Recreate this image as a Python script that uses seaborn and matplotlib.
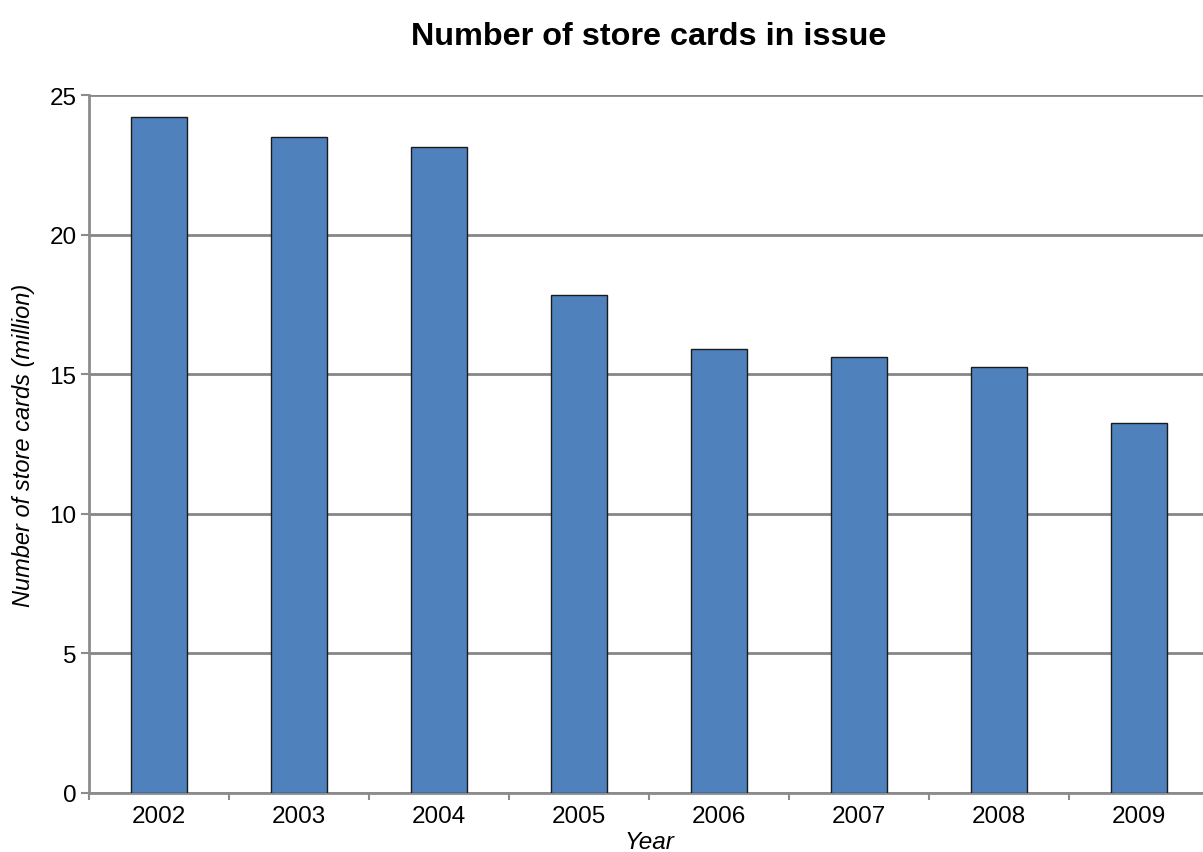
import numpy as np
import pandas as pd
import seaborn as sns
import matplotlib.pyplot as plt
from matplotlib.ticker import MultipleLocator

years = ['2002', '2003', '2004', '2005', '2006', '2007', '2008', '2009']
cards = [24.2, 23.5, 23.15, 17.85, 15.9, 15.6, 15.25, 13.25]

df = pd.DataFrame({'Year': years, 'cards': cards})

sns.set_style('white')
plt.rcParams['font.family'] = ['Liberation Sans', 'DejaVu Sans']
plt.rcParams['text.color'] = 'black'
plt.rcParams['axes.labelcolor'] = 'black'
plt.rcParams['xtick.color'] = 'black'
plt.rcParams['ytick.color'] = 'black'

fig = plt.figure(figsize=(12.03, 8.53), dpi=100)
# plot area runs slightly past the right edge like the original
ax = fig.add_axes([89 / 1203, 59 / 853, 1120 / 1203, 698 / 853])

sns.barplot(data=df, x='Year', y='cards', color='#4F81BD', width=0.4,
            edgecolor='#1a1a1a', linewidth=1.0, saturation=1, ax=ax, zorder=3)

ax.set_ylim(0, 25)
ax.set_xlim(-0.5, len(years) - 0.5)
ax.yaxis.set_major_locator(MultipleLocator(5))
ax.grid(axis='y', color='#868686', linewidth=2, zorder=0)
ax.set_axisbelow(True)

for s in ['top', 'right']:
    ax.spines[s].set_visible(False)
for s in ['left', 'bottom']:
    ax.spines[s].set_color('#8c8c8c')
    ax.spines[s].set_linewidth(2)

# x ticks sit between categories
ax.set_xticks(np.arange(len(years) + 1) - 0.5, minor=True)
ax.tick_params(axis='x', which='minor', bottom=True, length=5, width=1.5,
               color='#8c8c8c', direction='out')
ax.tick_params(axis='x', which='major', length=0, labelsize=17.5, pad=9)
ax.tick_params(axis='y', left=True, length=6, width=1.5, color='#8c8c8c',
               labelcolor='black', labelsize=17.5, pad=3)

ax.set_title('Number of store cards in issue', fontsize=23.3, fontweight='bold',
             pad=37, color='black')
ax.set_xlabel('Year', fontsize=17.5, style='italic', labelpad=2)
ax.set_ylabel('Number of store cards (million)', fontsize=17, style='italic',
              labelpad=10)

plt.savefig('out.png', dpi=100)
